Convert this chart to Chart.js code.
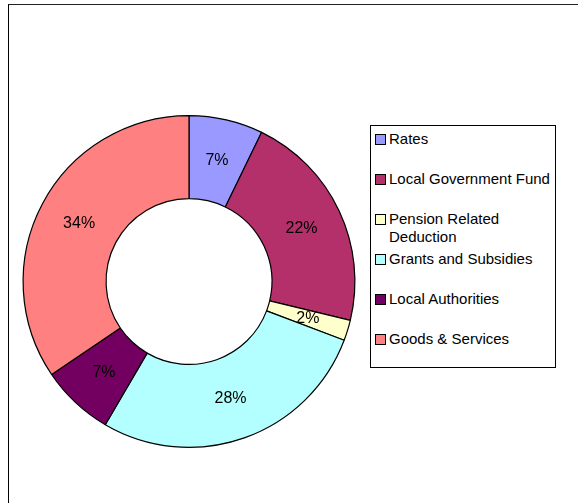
<!DOCTYPE html>
<html>
<head>
<meta charset="utf-8">
<script src="https://cdn.jsdelivr.net/npm/chart.js@4"></script>
<style>
  body { margin: 0; background: #fff; font-family: "Liberation Sans", Arial, sans-serif; }
  #wrap { position: relative; width: 578px; height: 503px; overflow: hidden; }
  #frame { position: absolute; left: 8px; top: 4px; width: 700px; height: 700px; border: 1.5px solid #000; border-top-color: #222; }
  #mychart { position: absolute; left: 0; top: 0; }
  #legend { position: absolute; left: 370px; top: 125px; width: 184px; height: 241px; border: 1px solid #000; background: #fff; }
  .item { position: absolute; left: 4px; display: flex; align-items: flex-start; font-size: 15px; line-height: 18px; color: #000; }
  .sw { width: 9px; height: 9px; border: 1px solid #000; margin: 4px 3px 0 0; flex: none; }
  .txt { width: 165px; }
</style>
</head>
<body>
<div id="wrap">
  <div id="frame"></div>
  <canvas id="mychart" width="578" height="503"></canvas>
  <div id="legend"></div>
</div>
<script>
// 데이터
const labels = ["Rates", "Local Government Fund", "Pension Related Deduction", "Grants and Subsidies", "Local Authorities", "Goods & Services"];
const values = [7.2, 21.5, 2.0, 27.6, 7.1, 34.4];
const colors = ["#9999FF", "#B3306A", "#FFFFCC", "#B3FFFF", "#730060", "#FF8080"];

// 범례 (HTML)
const legendEl = document.getElementById("legend");
labels.forEach((name, i) => {
  const item = document.createElement("div");
  item.className = "item";
  item.style.top = (4 + i * 40) + "px";
  item.innerHTML = '<div class="sw" style="background:' + colors[i] + '"></div><div class="txt"></div>';
  item.querySelector(".txt").textContent = name;
  legendEl.appendChild(item);
});

// 퍼센트 라벨
const pctLabels = {
  id: "pctLabels",
  afterDatasetsDraw(chart) {
    const c = chart.ctx;
    const meta = chart.getDatasetMeta(0);
    const total = values.reduce((a, b) => a + b, 0);
    c.save();
    c.font = "16px 'Liberation Sans', Arial, sans-serif";
    c.fillStyle = "#000";
    c.textAlign = "center";
    c.textBaseline = "middle";
    meta.data.forEach((arc, i) => {
      const p = arc.tooltipPosition();
      c.fillText(Math.round(values[i] / total * 100) + "%", p.x, p.y);
    });
    c.restore();
  },
};

const ctx = document.getElementById("mychart");

new Chart(ctx, {
  type: "doughnut",
  data: {
    labels: labels,
    datasets: [
      {
        data: values,
        backgroundColor: colors,
        borderColor: "#000",
        borderWidth: 1.2,
      },
    ],
  },
  options: {
    responsive: false,
    animation: false,
    cutout: "50%",
    layout: {
      padding: { left: 22, right: 222, top: 115, bottom: 55 },
    },
    plugins: {
      legend: { display: false },
      tooltip: { enabled: false },
    },
  },
  plugins: [pctLabels],
});
</script>
</body>
</html>
